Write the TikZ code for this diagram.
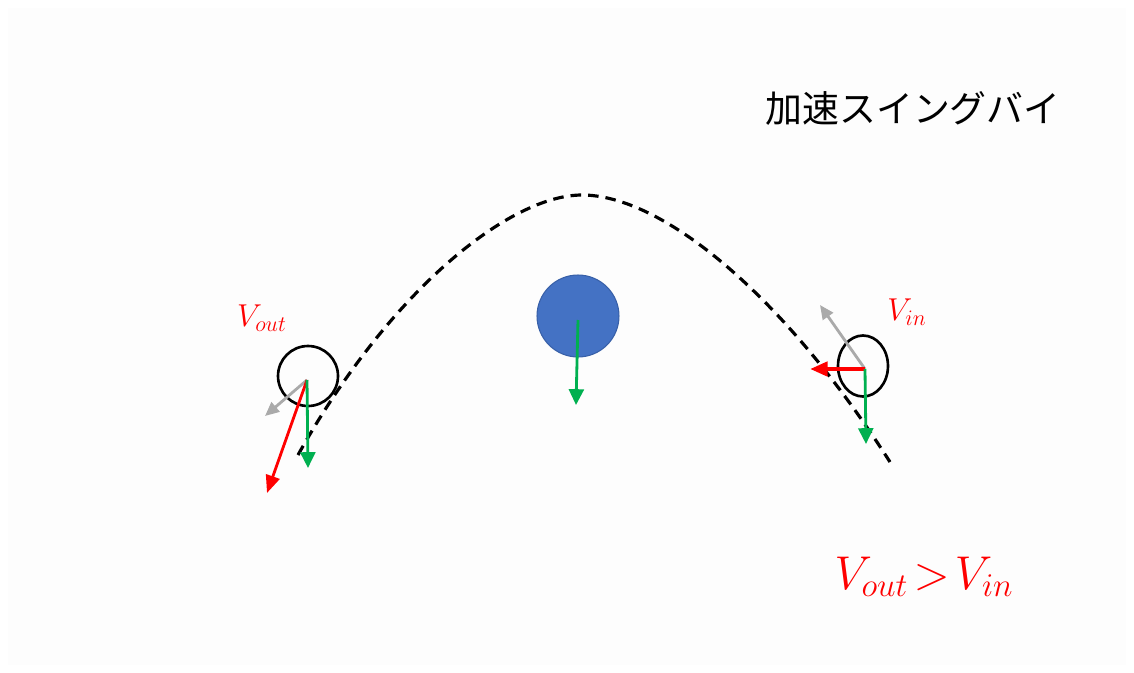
\RequirePackage{fix-cm}
\documentclass[tikz,border=0pt]{standalone}
\usepackage{fontspec}
\newfontfamily\jpfont{Noto Sans CJK JP}
\usetikzlibrary{arrows.meta, shapes.geometric}

\definecolor{rojo}{RGB}{255,0,0}
\definecolor{verde}{RGB}{0,176,80}
\definecolor{gris}{RGB}{170,170,170}
\definecolor{azul}{RGB}{68,114,196}
\definecolor{azulborde}{RGB}{56,96,168}
\definecolor{fondo}{RGB}{253,253,253}

\begin{document}
\begin{tikzpicture}[
    x=0.02cm,
    y=-0.02cm,
    orbita/.style={draw, dash pattern=on 6pt off 4pt, line width=1.8pt},
    nave/.style={draw, line width=1.5pt, inner sep=0pt},
    planeta/.style={circle, fill=azul, draw=azulborde, line width=0.6pt, minimum size=1.64cm, inner sep=0pt},
    vgrav/.style={draw=verde, line width=1.6pt, -{Triangle[length=9pt, width=8.5pt]}},
    vrojo/.style={draw=rojo, line width=1.6pt, -{Triangle[length=10pt, width=8pt]}},
    vgris/.style={draw=gris, line width=1.6pt, -{Triangle[length=8pt, width=7pt]}},
    etiqueta/.style={text=rojo, font=\fontsize{18}{21}\selectfont}
]

% marco
\useasboundingbox (0,0) rectangle (1134,673);
\fill[fondo] (8,8) rectangle (1126,665);

\node[font=\jpfont\fontsize{21}{25}\selectfont] (titulo) at (913,108) {加速スイングバイ};

% trayectoria
\coordinate (ini) at (298,455);
\coordinate (cima) at (582,195);
\coordinate (fin) at (890,462);
\draw[orbita] (ini) .. controls (390,290) and (510,195) .. (cima)
    .. controls (660,195) and (780,290) .. (fin);

% planeta
\node[planeta] (pl) at (578,316) {};
\coordinate (pl0) at (578,320);
\coordinate (pl1) at (576,405);
\draw[vgrav] (pl0) -- (pl1);

% nave de salida
\node[nave, circle, minimum size=1.2cm] (salida) at (308,376) {};
\coordinate (s0) at (307,380);
\coordinate (sR) at (267,493);
\coordinate (sG) at (308,468);
\coordinate (sB) at (265,416);
\draw[vgris] (s0) -- (sB);
\draw[vrojo] (s0) -- (sR);
\draw[vgrav] (s0) -- (sG);
\node[etiqueta] (lout) at (262,318) {$V_{out}$};

% nave de entrada
\node[nave, ellipse, minimum width=1.0cm, minimum height=1.22cm] (entrada) at (863,366) {};
\coordinate (e0) at (865,369);
\coordinate (eR) at (810,369);
\coordinate (eG) at (866,444);
\coordinate (eB) at (820,305);
\draw[vgris] (e0) -- (eB);
\draw[vrojo, line width=2.4pt] (e0) -- (eR);
\draw[vgrav] (e0) -- (eG);
\node[etiqueta] (lin) at (907,312) {$V_{in}$};

\node[etiqueta, font=\fontsize{27}{32}\selectfont] (rel) at (924,577) {$V_{out}\!>\!V_{in}$};

\end{tikzpicture}
\end{document}
